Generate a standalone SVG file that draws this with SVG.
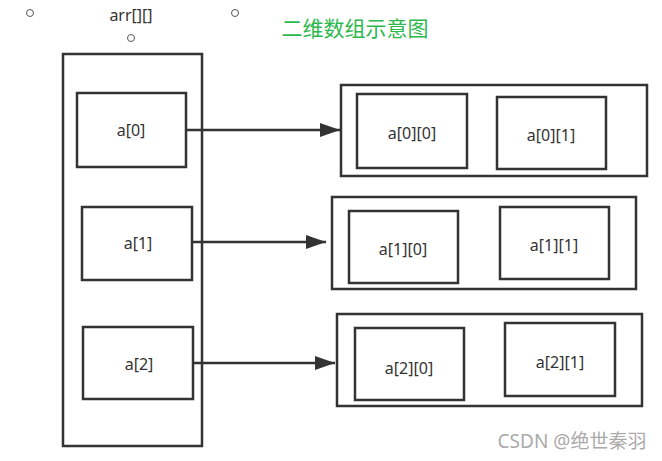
<svg xmlns="http://www.w3.org/2000/svg" width="662" height="461" viewBox="0 0 662 461">
<defs>
<style>
.box{fill:none;stroke:#333;stroke-width:2.5}
.lbl{font-family:"Noto Sans","Open Sans",sans-serif;font-size:16px;fill:#333;text-anchor:middle;dominant-baseline:central}
.dot{fill:#fff;stroke:#555;stroke-width:1}
.conn{stroke:#333;stroke-width:2.5;fill:none}
</style>
<marker id="ah" markerUnits="userSpaceOnUse" markerWidth="20" markerHeight="14" refX="20" refY="7" orient="auto">
<path d="M0,0 L20,7 L0,14 Z" fill="#333"/>
</marker>
</defs>
<rect width="662" height="461" fill="#fff"/>
<circle class="dot" cx="30" cy="13" r="3.5"/>
<circle class="dot" cx="235" cy="13" r="3.5"/>
<circle class="dot" cx="131" cy="38" r="3.5"/>
<text class="lbl" x="131" y="15">arr[][]</text>
<text x="355" y="27" style="font-family:'Noto Sans CJK SC',sans-serif;font-size:21px;fill:#2db84d;text-anchor:middle;dominant-baseline:central">二维数组示意图</text>
<g id="arr">
<rect class="box" x="63" y="54" width="139" height="392"/>
</g>
<g id="a0"><rect class="box" x="77" y="93" width="109" height="74"/><text class="lbl" x="131" y="130">a[0]</text></g>
<g id="a1"><rect class="box" x="82" y="207" width="110" height="73"/><text class="lbl" x="138" y="243">a[1]</text></g>
<g id="a2"><rect class="box" x="83" y="327" width="110" height="72"/><text class="lbl" x="139" y="364">a[2]</text></g>
<g id="row0"><rect class="box" x="341" y="85" width="306" height="91"/></g>
<g id="a00"><rect class="box" x="357" y="94" width="110" height="74"/><text class="lbl" x="412" y="133">a[0][0]</text></g>
<g id="a01"><rect class="box" x="497" y="97" width="109" height="72"/><text class="lbl" x="551" y="135">a[0][1]</text></g>
<g id="row1"><rect class="box" x="332" y="197" width="304" height="92"/></g>
<g id="a10"><rect class="box" x="349" y="211" width="109" height="72"/><text class="lbl" x="403" y="249">a[1][0]</text></g>
<g id="a11"><rect class="box" x="500" y="207" width="109" height="72"/><text class="lbl" x="554" y="245">a[1][1]</text></g>
<g id="row2"><rect class="box" x="337" y="314" width="305" height="92"/></g>
<g id="a20"><rect class="box" x="355" y="328" width="109" height="72"/><text class="lbl" x="409" y="368">a[2][0]</text></g>
<g id="a21"><rect class="box" x="505" y="323" width="110" height="73"/><text class="lbl" x="560" y="362">a[2][1]</text></g>
<g id="connectors">
<line class="conn" x1="186" y1="130" x2="340" y2="130" marker-end="url(#ah)"/>
<line class="conn" x1="192" y1="242" x2="326" y2="242" marker-end="url(#ah)"/>
<line class="conn" x1="194" y1="363" x2="335" y2="363" marker-end="url(#ah)"/>
</g>
<text x="572" y="441" style="font-family:'Noto Sans','Noto Sans CJK SC',sans-serif;font-size:19px;fill:#aaa;text-anchor:middle;dominant-baseline:central">CSDN @绝世秦羽</text>
</svg>
